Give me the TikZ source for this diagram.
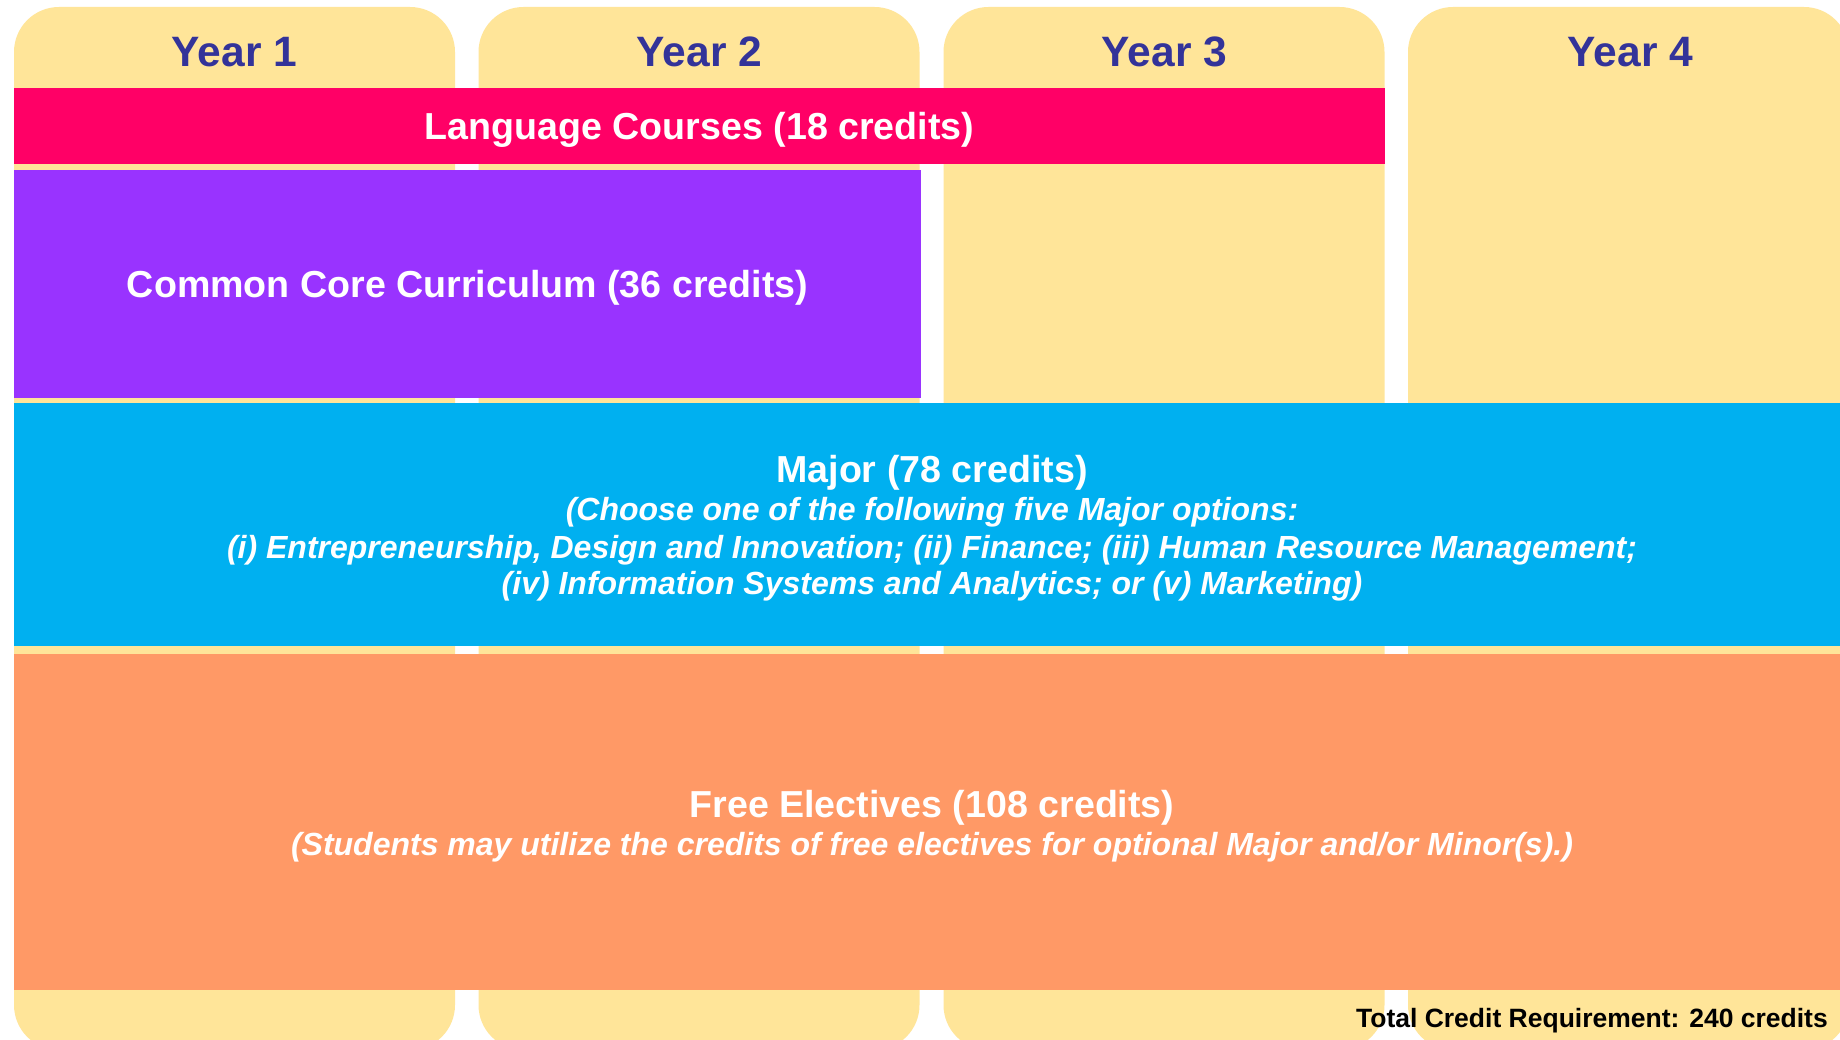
\documentclass[tikz,border=0pt]{standalone}
\usepackage{fontspec}
\setmainfont{Liberation Sans}
\definecolor{yearfill}{HTML}{FFE599}
\definecolor{yeartext}{HTML}{333399}
\definecolor{langfill}{HTML}{FF0066}
\definecolor{corefill}{HTML}{9933FF}
\definecolor{majorfill}{HTML}{00B0F0}
\definecolor{freefill}{HTML}{FF9966}
\newcommand\mybig{\fontsize{37.6}{44}\selectfont\bfseries}
\newcommand\myital{\fontsize{32}{38}\selectfont\bfseries\itshape}
\newcommand\myyear{\fontsize{42.5}{50}\selectfont\bfseries}
\newcommand\mytotal{\fontsize{26.5}{32}\selectfont\bfseries}
\begin{document}
\begin{tikzpicture}[x=1pt,y=-1pt,
  yearbox/.style={fill=yearfill, rounded corners=45pt, minimum width=441pt, minimum height=1043pt, inner sep=0pt, outer sep=0pt},
  bar/.style={inner sep=0pt, outer sep=0pt},
  yearlabel/.style={inner sep=0pt, anchor=base, text=yeartext, font=\myyear},
  bigtext/.style={inner sep=0pt, anchor=base, text=white, font=\mybig},
  smalltext/.style={inner sep=0pt, anchor=base, text=white, font=\myital}]
\useasboundingbox (0,0) rectangle (1840,1040);
\clip (0,0) rectangle (1840,1040);
\fill[white] (0,0) rectangle (1840,1040);
% year columns
\node[yearbox] (y1) at (234.5,528.5) {};
\node[yearbox] (y2) at (699,528.5) {};
\node[yearbox] (y3) at (1164,528.5) {};
\node[yearbox] (y4) at (1628.5,528.5) {};
\node[yearlabel] (t1) at (234.5,67) {Year 1};
\node[yearlabel] (t2) at (699.5,67) {Year 2};
\node[yearlabel] (t3) at (1164.5,67) {Year 3};
\node[yearlabel] (t4) at (1630.5,67) {Year 4};
% bars
\node[bar, fill=langfill, minimum width=1371pt, minimum height=76pt] (lang) at (699.5,126) {};
\node[bar, fill=corefill, minimum width=907pt, minimum height=228pt] (core) at (467.5,284) {};
\node[bar, fill=majorfill, minimum width=1835pt, minimum height=243pt] (major) at (931.5,524.5) {};
\node[bar, fill=freefill, minimum width=1835pt, minimum height=336pt] (free) at (931.5,822) {};
% texts
\node[bigtext] (langt) at (699.5,139.5) {Language Courses (18 credits)};
\node[bigtext] (coret) at (467.5,297.5) {Common Core Curriculum (36 credits)};
\node[bigtext] (majort) at (932,482.5) {Major (78 credits)};
\node[smalltext] (maj1) at (932,520.5) {(Choose one of the following five Major options:};
\node[smalltext] (maj2) at (932,558.5) {(i) Entrepreneurship, Design and Innovation; (ii) Finance; (iii) Human Resource Management;};
\node[smalltext] (maj3) at (932,594.5) {(iv) Information Systems and Analytics; or (v) Marketing)};
\node[bigtext] (freet) at (932,817.5) {Free Electives (108 credits)};
\node[smalltext] (free1) at (932,855.5) {(Students may utilize the credits of free electives for optional Major and/or Minor(s).)};
\node[inner sep=0pt, anchor=base east, text=black, font=\mytotal] (total) at (1828,1027) {Total Credit Requirement: 240 credits};
\end{tikzpicture}
\end{document}
